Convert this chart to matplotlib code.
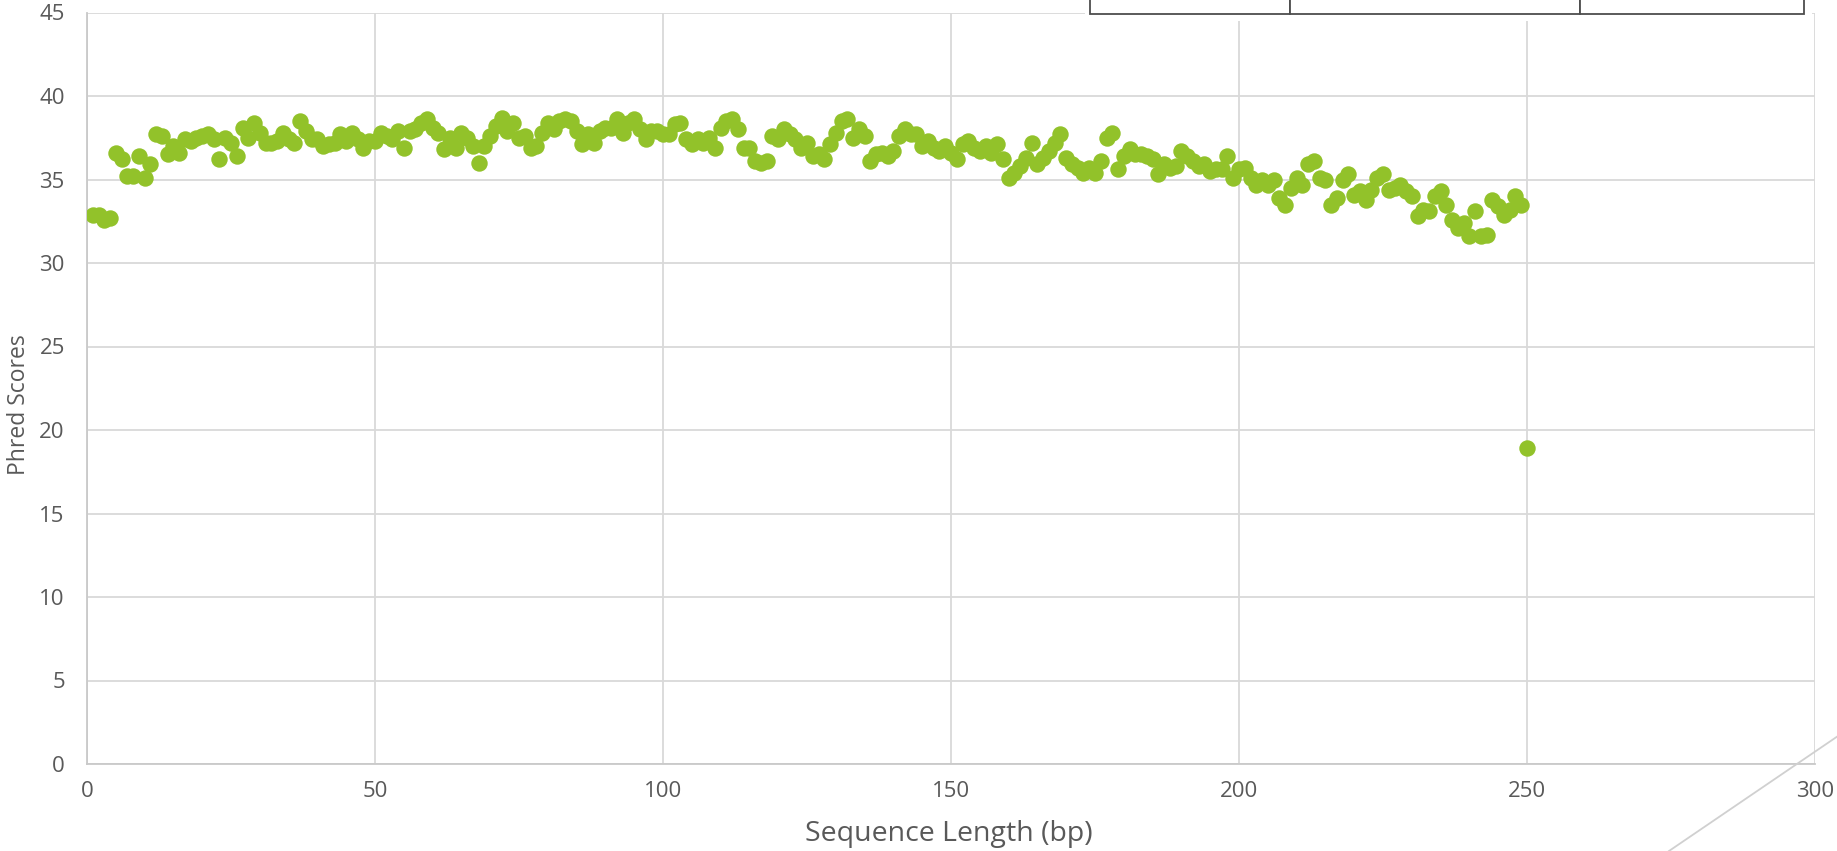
import matplotlib
matplotlib.use("Agg")
import matplotlib.pyplot as plt
from matplotlib.lines import Line2D
from matplotlib.patches import Rectangle

# mean phred score per base position (bp 1..250)
positions = list(range(1, 251))
scores_1_50 = [32.9, 32.9, 32.6, 32.7, 36.6, 36.2, 35.2, 35.2, 36.4, 35.1,
               35.9, 37.7, 37.6, 36.5, 37.0, 36.6, 37.4, 37.3, 37.5, 37.6,
               37.7, 37.4, 36.2, 37.5, 37.2, 36.4, 38.1, 37.5, 38.4, 37.8,
               37.2, 37.2, 37.3, 37.8, 37.4, 37.2, 38.5, 37.9, 37.4, 37.4,
               37.0, 37.1, 37.2, 37.7, 37.3, 37.8, 37.4, 36.9, 37.3, 37.3]
scores_51_100 = [37.8, 37.6, 37.4, 37.9, 36.9, 37.9, 38.0, 38.4, 38.6, 38.1,
                 37.8, 36.8, 37.5, 36.9, 37.8, 37.5, 37.0, 36.0, 37.0, 37.6,
                 38.2, 38.7, 37.9, 38.4, 37.5, 37.6, 36.9, 37.0, 37.8, 38.4,
                 38.0, 38.5, 38.6, 38.5, 37.9, 37.1, 37.7, 37.2, 37.9, 38.1,
                 38.1, 38.6, 37.8, 38.4, 38.6, 38.0, 37.4, 37.9, 37.9, 37.7]
scores_101_150 = [37.7, 38.3, 38.4, 37.4, 37.1, 37.4, 37.2, 37.5, 36.9, 38.1,
                  38.5, 38.6, 38.0, 36.9, 36.9, 36.1, 36.0, 36.1, 37.6, 37.4,
                  38.0, 37.7, 37.4, 36.9, 37.2, 36.4, 36.5, 36.2, 37.1, 37.8,
                  38.5, 38.6, 37.5, 38.0, 37.6, 36.1, 36.5, 36.6, 36.4, 36.7,
                  37.6, 38.0, 37.7, 37.7, 37.0, 37.3, 36.9, 36.7, 37.0, 36.6]
scores_151_200 = [36.2, 37.1, 37.3, 36.9, 36.7, 37.0, 36.6, 37.1, 36.2, 35.1,
                  35.4, 35.8, 36.3, 37.2, 35.9, 36.3, 36.7, 37.2, 37.7, 36.3,
                  35.9, 35.7, 35.4, 35.7, 35.4, 36.1, 37.5, 37.8, 35.6, 36.4,
                  36.8, 36.5, 36.5, 36.4, 36.2, 35.3, 35.9, 35.7, 35.8, 36.7,
                  36.4, 36.1, 35.8, 35.9, 35.5, 35.6, 35.6, 36.4, 35.1, 35.6]
scores_201_250 = [35.7, 35.1, 34.7, 35.0, 34.7, 35.0, 33.9, 33.5, 34.5, 35.1,
                  34.7, 35.9, 36.1, 35.1, 35.0, 33.5, 33.9, 35.0, 35.3, 34.1,
                  34.3, 33.8, 34.4, 35.1, 35.3, 34.4, 34.5, 34.7, 34.3, 34.0,
                  32.8, 33.2, 33.1, 34.0, 34.3, 33.5, 32.6, 32.1, 32.4, 31.6,
                  33.1, 31.6, 31.7, 33.8, 33.4, 32.9, 33.2, 34.0, 33.5, 18.9]
scores = scores_1_50 + scores_51_100 + scores_101_150 + scores_151_200 + scores_201_250

x_ticks = [0, 50, 100, 150, 200, 250, 300]
y_ticks = [0, 5, 10, 15, 20, 25, 30, 35, 40, 45]

W, H = 1837, 851
fig = plt.figure(figsize=(W / 100, H / 100), dpi=100)
plt.rcParams['font.family'] = ['Open Sans', 'DejaVu Sans']

ax = fig.add_axes([87 / W, 1 - 764 / H, (1815 - 87) / W, (764 - 12.5) / H])
grid_c = '#d9d9d9'
text_c = '#595959'

ax.scatter(positions, scores, s=140, color='#92C22A', linewidths=0, zorder=3)

ax.set_xlim(0, 300)
ax.set_ylim(0, 45)
ax.set_xticks(x_ticks)
ax.set_yticks(y_ticks)
ax.grid(True, color=grid_c, linewidth=1.3)
ax.set_axisbelow(True)
for side in ['top', 'right']:
    ax.spines[side].set_visible(False)
for side in ['left', 'bottom']:
    ax.spines[side].set_color('#c9c9c9')
    ax.spines[side].set_linewidth(1.3)
ax.tick_params(axis='both', length=0, labelsize=16, labelcolor=text_c)
ax.tick_params(axis='x', pad=12)
ax.tick_params(axis='y', pad=16)
for lab in ax.get_xticklabels() + ax.get_yticklabels():
    lab.set_clip_on(False)

ax.set_xlabel('Sequence Length (bp)', fontsize=20.5, color=text_c, va='center')
ax.xaxis.set_label_coords(0.499, -0.093)
ax.set_ylabel('Phred Scores', fontsize=16.5, color=text_c, va='center')
ax.yaxis.set_label_coords(-0.0395, 0.478)

# table cells peeking in at the top right and a stray line at bottom right
fig.add_artist(Rectangle((1085 / W, 1 - 21 / H), (1812 - 1085) / W, 30 / H,
                         transform=fig.transFigure, facecolor='white',
                         edgecolor='none', zorder=5))
for x0, x1 in [(1090, 1290), (1290, 1580), (1580, 1804)]:
    fig.add_artist(Rectangle((x0 / W, 1 - 14 / H), (x1 - x0) / W, 30 / H,
                             transform=fig.transFigure, facecolor='white',
                             edgecolor='#4d4d4d', linewidth=1.3, zorder=6))
fig.add_artist(Line2D([1669 / W, 1 + 1 / W], [0, 1 - 736 / H],
                      transform=fig.transFigure, color='#d0d0d0',
                      linewidth=1.3, zorder=6))

fig.savefig('out.png', dpi=100)
